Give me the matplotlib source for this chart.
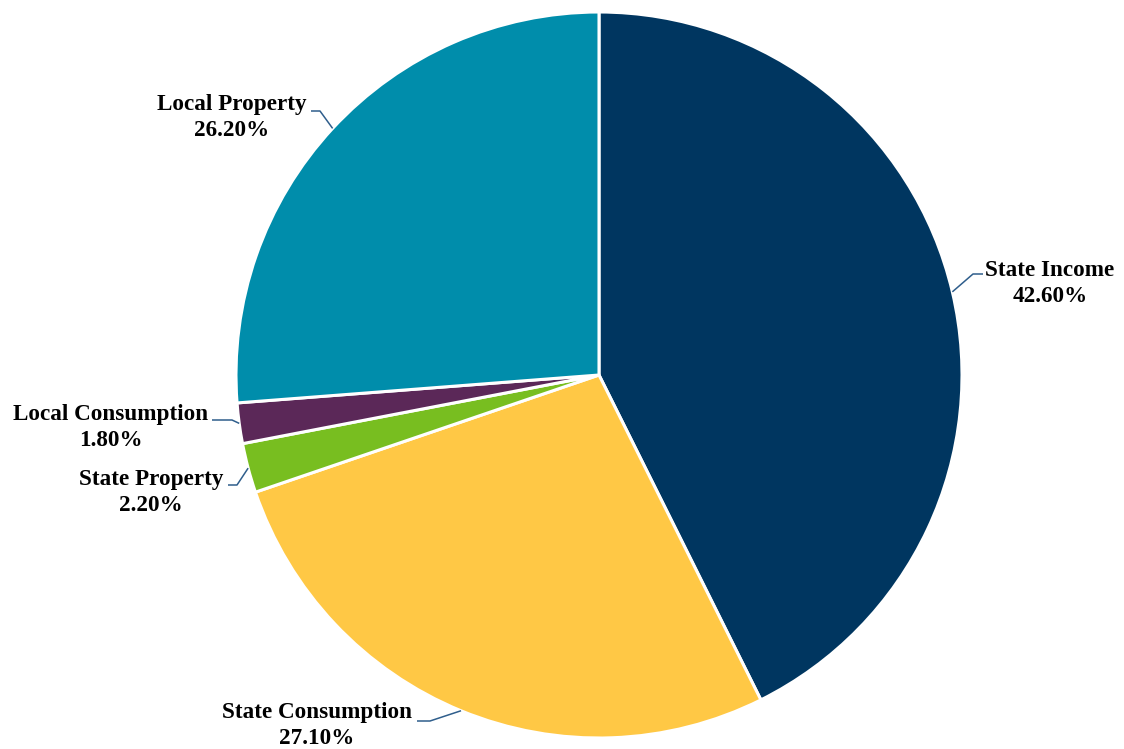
import numpy as np
import matplotlib
matplotlib.use("Agg")
import matplotlib.pyplot as plt

# Tax revenue shares
categories = ["State Income", "State Consumption", "State Property",
              "Local Consumption", "Local Property"]
shares = [42.6, 27.1, 2.2, 1.8, 26.2]
pct_labels = ["42.60%", "27.10%", "2.20%", "1.80%", "26.20%"]
colors = ["#003660", "#FFC845", "#78BE20", "#5B2858", "#008DAB"]

W, H = 1124, 749
DPI = 100

# Label layout in pixel units (y measured from the top):
# (text centre x, first-line baseline y, elbow x, elbow y, segment end x)
label_layout = {
    "State Income":      (1050, 276, 973, 274, 983),
    "State Consumption": (317, 718, 430, 721, 417),
    "State Property":    (151, 485, 237, 485, 228),
    "Local Consumption": (111, 420, 232, 420, 212),
    "Local Property":    (232, 110, 320, 111, 311),
}
pie_cx, pie_cy, pie_r = 599, 375, 363
line_pitch = 26
leader_color = "#2F5E8C"

fig = plt.figure(figsize=(W / DPI, H / DPI), dpi=DPI)
ax = fig.add_axes([0, 0, 1, 1])


def fy(y):
    """Convert a top-down pixel row to the axes' bottom-up coordinate."""
    return H - y


wedges, _ = ax.pie(shares, colors=colors, startangle=90, counterclock=False,
                   center=(pie_cx, fy(pie_cy)), radius=pie_r,
                   wedgeprops=dict(edgecolor="white", linewidth=2.2))
ax.set_xlim(0, W)
ax.set_ylim(0, H)
ax.set_aspect("equal")
ax.axis("off")

font = dict(family=["Liberation Serif", "DejaVu Serif"], weight="bold",
            size=16.7, color="#000000")

for wedge, name, pct in zip(wedges, categories, pct_labels):
    tx, base_y, ex, ey, sx = label_layout[name]
    mid = np.deg2rad((wedge.theta1 + wedge.theta2) / 2)
    px = wedge.center[0] + wedge.r * np.cos(mid)
    py = wedge.center[1] + wedge.r * np.sin(mid)
    ax.plot([sx, ex, px], [fy(ey), fy(ey), py], color=leader_color,
            lw=1.1, solid_capstyle="butt", zorder=3)
    ax.text(tx, fy(base_y), name, ha="center", va="baseline", **font)
    ax.text(tx, fy(base_y + line_pitch), pct, ha="center", va="baseline", **font)

fig.savefig("out.png", dpi=DPI, facecolor="white")
